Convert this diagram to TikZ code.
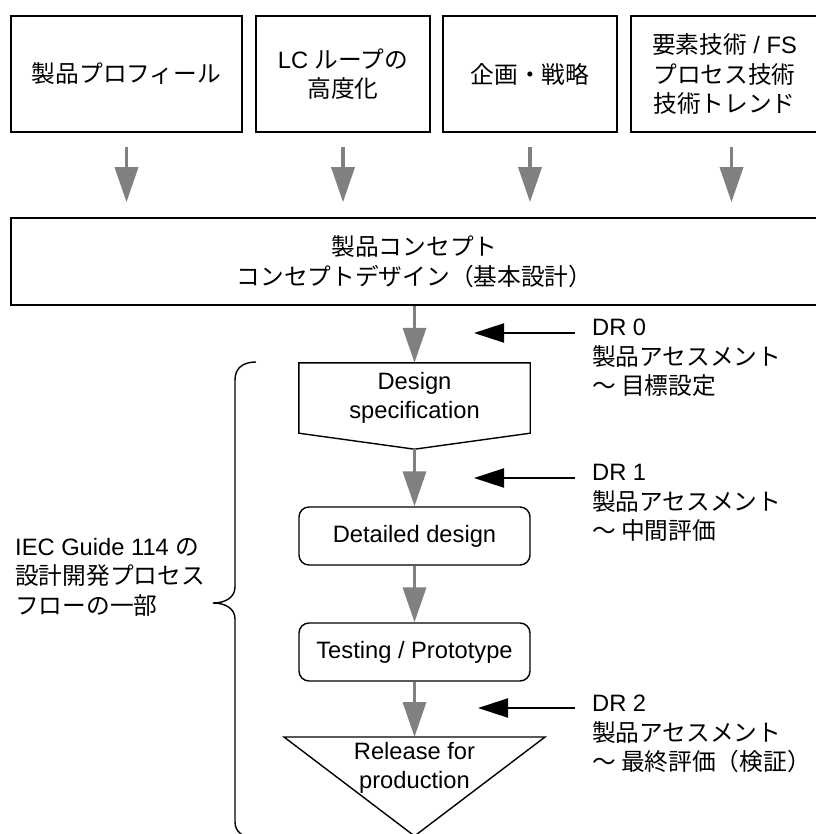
\documentclass[tikz,border=0pt]{standalone}
\usepackage{fontspec}
\setmainfont{Liberation Sans}
\newfontfamily\jp{Noto Sans CJK JP}
\usetikzlibrary{arrows.meta}
\definecolor{flowgray}{RGB}{128,128,128}
\tikzset{
 txt/.style={font=\fontsize{23.7pt}{29.5pt}\selectfont},
 topbox/.style={txt,draw,line width=1.6pt,minimum height=116pt,align=center},
 stage/.style={txt,minimum width=231pt,align=center},
 outline/.style={line width=1.4pt},
 note/.style={txt,align=left,inner sep=0pt},
 flow/.style={flowgray,line width=3.5pt,-{Triangle[length=35pt,width=23pt]}},
 review/.style={black,line width=2pt,-{Triangle[length=30pt,width=19pt]}}
}
\begin{document}
\begin{tikzpicture}[x=1pt,y=-1pt]
 \useasboundingbox (0,0) rectangle (815,834);
 \node[topbox,minimum width=231pt] (prof) at (126.5,74) {{\jp 製品プロフィール}};
 \node[topbox,minimum width=174pt] (loop) at (343,74) {LC {\jp ループの}\\{\jp 高度化}};
 \node[topbox,minimum width=174pt] (plan) at (530,74) {{\jp 企画・戦略}};
 \node[topbox,minimum width=187pt] (tech) at (724.5,74) {{\jp 要素技術} / FS\\{\jp プロセス技術}\\{\jp 技術トレンド}};
 \node[topbox,minimum width=807pt,minimum height=87pt] (concept) at (414.5,261.5) {{\jp 製品コンセプト}\\{\jp コンセプトデザイン（基本設計）}};
 \foreach \n/\dx in {prof/0,loop/0,plan/0,tech/7}
  \draw[flow,shorten <=14pt,shorten >=15pt] ([xshift=\dx pt]\n.south) -- ([xshift=\dx pt]\n.south |- concept.north);

 \node[stage,minimum height=70pt] (spec) at (414.5,398) {Design\\specification};
 \draw[outline] (spec.south west) -- (spec.north west) -- (spec.north east) -- (spec.south east) -- ([yshift=-16pt]spec.south) -- cycle;
 \node[stage,draw,outline,rounded corners=10pt,minimum height=58pt] (detail) at (414.5,536) {Detailed design};
 \node[stage,draw,outline,rounded corners=10pt,minimum height=58pt] (test) at (414.5,652) {Testing / Prototype};
 \coordinate (reltop) at (414.5,737);
 \draw[outline] (284,737) -- (545,737) -- (414.5,836) -- cycle;
 \node[stage] (rel) at (414.5,768) {Release for\\production};
 \draw[flow] (concept) -- (spec);
 \draw[flow] ([yshift=-16pt]spec.south) -- (detail);
 \draw[flow] (detail) -- (test);
 \draw[flow] (test) -- (reltop);

 \node[note,anchor=west] (dr0) at (592,358) {DR 0\\{\jp 製品アセスメント}\\{\jp ～ 目標設定}};
 \node[note,anchor=west] (dr1) at (592,503) {DR 1\\{\jp 製品アセスメント}\\{\jp ～ 中間評価}};
 \node[note,anchor=west] (dr2) at (592,734) {DR 2\\{\jp 製品アセスメント}\\{\jp ～ 最終評価（検証）}};
 \coordinate (tip0) at (474,333);
 \coordinate (tip1) at (474,478);
 \coordinate (tip2) at (478,708);
 \draw[review,shorten <=17pt] (dr0.west |- tip0) -- (tip0);
 \draw[review,shorten <=17pt] (dr1.west |- tip1) -- (tip1);
 \draw[review,shorten <=17pt] (dr2.west |- tip2) -- (tip2);

 \node[note,anchor=west] (iec) at (15,577) {IEC Guide 114 {\jp の}\\{\jp 設計開発プロセス}\\{\jp フローの一部}};
 \draw[outline] (256,362) .. controls (243,362) and (235,368) .. (235,380) -- (235,587)
  .. controls (235,597) and (226,603) .. (213,603) .. controls (226,603) and (235,609) .. (235,619)
  -- (235,822) .. controls (235,832) and (243,838) .. (256,838);
\end{tikzpicture}
\end{document}
